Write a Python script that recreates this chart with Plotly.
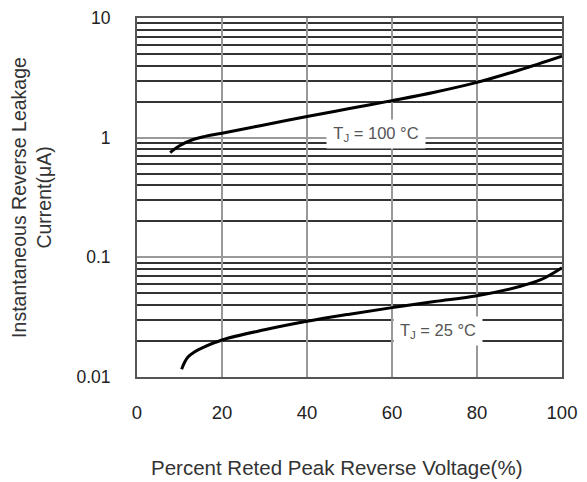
import plotly.graph_objects as go

# Data
x_100 = [7.8, 10, 13.2, 16, 20, 29, 40, 50, 60, 70, 80, 90, 100]
y_100 = [0.75, 0.855, 0.965, 1.025, 1.09, 1.26, 1.50, 1.75, 2.04, 2.4, 2.9, 3.68, 4.8]

x_25 = [10.5, 11.2, 12, 13.5, 15.6, 20, 30, 40, 50, 60, 70, 80, 90, 95, 100]
y_25 = [0.0116, 0.0133, 0.0147, 0.0162, 0.0177, 0.0204, 0.0248, 0.0292, 0.0335, 0.038,
        0.0428, 0.0478, 0.057, 0.065, 0.082]

x_ticks = [0, 20, 40, 60, 80, 100]
y_ticks = [0.01, 0.1, 1, 10]
y_tick_text = ["0.01", "0.1", "1", "10"]

label_100 = "T<sub>J</sub> = 100 °C"
label_25 = "T<sub>J</sub> = 25 °C"
x_title = "Percent Reted Peak Reverse Voltage(%)"
y_title = "Instantaneous Reverse Leakage<br>Current(μA)"

FONT = "Liberation Sans, Arial, sans-serif"

fig = go.Figure()
fig.add_trace(go.Scatter(x=x_100, y=y_100, mode="lines",
                         line=dict(color="black", width=3, shape="spline"),
                         showlegend=False, hoverinfo="skip"))
fig.add_trace(go.Scatter(x=x_25, y=y_25, mode="lines",
                         line=dict(color="black", width=3, shape="spline"),
                         showlegend=False, hoverinfo="skip"))

ann_font = dict(family=FONT, size=16.5, color="#555")
fig.add_annotation(x=56.3, y=0.03, xref="x", yref="y", text=label_100,
                   showarrow=False, bgcolor="white", font=ann_font,
                   width=96, height=26)
fig.add_annotation(x=70.8, y=-1.614, xref="x", yref="y", text=label_25,
                   showarrow=False, bgcolor="white", font=ann_font,
                   width=86, height=26)
fig.add_annotation(x=0.47, y=0, xref="paper", yref="paper", text=x_title,
                   showarrow=False, yanchor="middle", yshift=-90,
                   font=dict(family=FONT, size=20.5, color="#333"))

# page body has an 8px margin, so the figure is shrunk and shifted accordingly
fig.update_layout(
    width=579, height=474,
    margin=dict(l=129, r=25, t=10, b=105),
    paper_bgcolor="white", plot_bgcolor="white",
    font=dict(family=FONT, color="#222"),
)
fig.update_xaxes(
    range=[0, 100], tickvals=x_ticks, ticks="", showgrid=True, automargin=False,
    gridcolor="#999", gridwidth=2, zeroline=False,
    showline=True, linecolor="#555", linewidth=2, mirror=True,
    tickfont=dict(size=18.5, color="#222"), ticklabelstandoff=18,
)
fig.update_yaxes(
    type="log", range=[-2, 1], tickvals=y_ticks, ticktext=y_tick_text, ticks="",
    showgrid=True, gridcolor="#999", gridwidth=2, zeroline=False, automargin=False,
    showline=True, linecolor="#555", linewidth=2, mirror=True,
    tickfont=dict(size=17.5, color="#222"), ticklabelstandoff=21,
    minor=dict(dtick="D1", showgrid=True, gridcolor="#333", gridwidth=1.5, ticks=""),
    title=dict(text=y_title, font=dict(size=19.5, color="#333"), standoff=22),
)

fig.write_html("out.html")
